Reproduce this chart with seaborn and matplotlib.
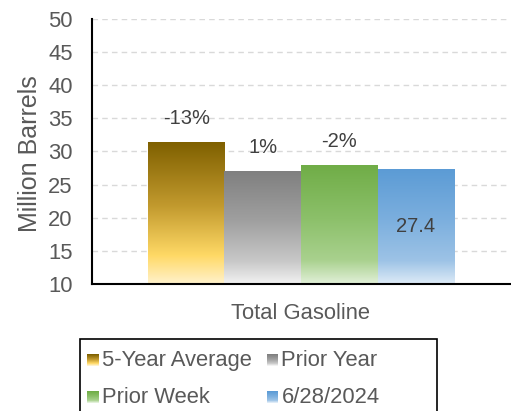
import matplotlib
matplotlib.use("Agg")
import matplotlib.pyplot as plt
import numpy as np
import pandas as pd
import seaborn as sns
from matplotlib.colors import LinearSegmentedColormap
from matplotlib.patches import Rectangle
from matplotlib.legend_handler import HandlerBase

# data
series = ["5-Year Average", "Prior Year", "Prior Week", "6/28/2024"]
values = [31.4, 27.1, 27.9, 27.4]
bar_labels = ["-13%", "1%", "-2%", "27.4"]
category = "Total Gasoline"

# gradient stops (bottom -> top)
grads = {
    "5-Year Average": ["#FFF2CC", "#FFD966", "#C29A2E", "#7F6000"],
    "Prior Year": ["#F2F2F2", "#C8C8C8", "#A0A0A0", "#7F7F7F"],
    "Prior Week": ["#E2F0D9", "#A9D18E", "#8CC06A", "#70AD47"],
    "6/28/2024": ["#DEEBF7", "#9DC3E6", "#7CAFDE", "#5B9BD5"],
}
stops = [0.0, 0.2, 0.55, 1.0]

df = pd.DataFrame({"cat": [category] * 4, "series": series, "value": values})

sns.set_theme(style="white")
plt.rcParams["font.family"] = ["Liberation Sans", "DejaVu Sans"]
FS = 15.8

fig = plt.figure(figsize=(5.11, 4.11), dpi=100)
ax = fig.add_axes([0.18, 0.309, 0.818, 0.645])

sns.barplot(data=df, x="cat", y="value", hue="series", hue_order=series,
            width=0.8, legend=False, ax=ax)

cmaps = {}
for s in series:
    cmaps[s] = LinearSegmentedColormap.from_list(s, list(zip(stops, grads[s])))

for s, cont in zip(series, ax.containers):
    for p in cont:
        x0, y0 = p.get_x(), 10
        x1, y1 = p.get_x() + p.get_width(), p.get_height()
        p.set_facecolor("none")
        p.set_edgecolor("none")
        grad = np.linspace(0, 1, 256).reshape(-1, 1)
        im = ax.imshow(grad, cmap=cmaps[s], origin="lower", aspect="auto",
                       extent=(x0, x1, y0, y1), zorder=2)
        im.set_clip_path(p)

ax.set_xlim(-0.546, 0.546)
ax.set_ylim(10, 50)

# labels
for i, (s, cont) in enumerate(zip(series, ax.containers)):
    p = cont[0]
    xc = p.get_x() + p.get_width() / 2
    if i < 3:
        ax.annotate(bar_labels[i], (xc, p.get_height()), xytext=(0, 10),
                    textcoords="offset points", ha="center", va="bottom",
                    fontsize=14.5, color="#404040")
    else:
        ax.text(xc, (10 + p.get_height()) / 2, bar_labels[i], ha="center",
                va="center", fontsize=14.5, color="#404040")

ax.set_yticks(range(10, 51, 5))
ax.yaxis.grid(True, color="#D9D9D9", linestyle=(0, (4, 3)), linewidth=1)
ax.set_axisbelow(True)
ax.tick_params(axis="y", labelsize=FS, labelcolor="#595959", length=0, pad=14)
ax.tick_params(axis="x", labelsize=FS, labelcolor="#595959", length=0, pad=14)
ax.set_xlabel("")
ax.set_ylabel("Million Barrels", fontsize=18, color="#595959")
ax.yaxis.set_label_coords(-0.12, 0.49)
for side in ["top", "right"]:
    ax.spines[side].set_visible(False)
for side in ["left", "bottom"]:
    ax.spines[side].set_color("black")
    ax.spines[side].set_linewidth(1.5)


class GradHandler(HandlerBase):
    def create_artists(self, legend, orig_handle, xdescent, ydescent,
                       width, height, fontsize, trans):
        cm = cmaps[orig_handle.get_label()]
        arts = []
        n = 12
        side = height * 0.75
        x = xdescent + width - side
        for k in range(n):
            r = Rectangle((x, -ydescent + side * k / n), side, side / n + 0.3,
                          facecolor=cm(k / (n - 1)), edgecolor="none",
                          transform=trans)
            arts.append(r)
        return arts


# row-major order: matplotlib fills legend columns first
leg_order = [series[0], series[2], series[1], series[3]]
handles = [Rectangle((0, 0), 1, 1, label=s) for s in leg_order]
leg = fig.legend(handles=handles, labels=leg_order, ncol=2,
                 handler_map={Rectangle: GradHandler()},
                 loc="upper left", bbox_to_anchor=(80 / 511, 1 - 341 / 411),
                 frameon=False,
                 fontsize=FS, labelcolor="#595959",
                 handlelength=0.45, handletextpad=0.15, columnspacing=0.75,
                 labelspacing=0.72, borderpad=0.4, borderaxespad=0)

# legend box is wider than its content and runs off the bottom
fig.patches.append(Rectangle((80 / 511, -0.05), 357 / 511, 0.05 + 72 / 411,
                             transform=fig.transFigure, fill=False,
                             edgecolor="black", linewidth=1.2))

fig.savefig("out.png", dpi=100)
